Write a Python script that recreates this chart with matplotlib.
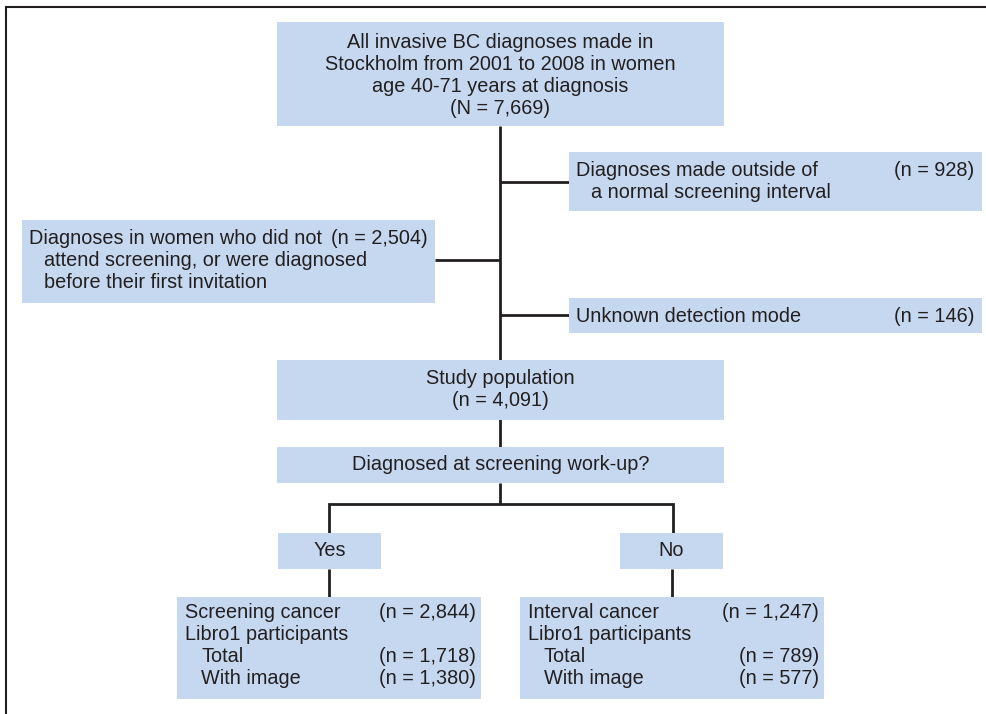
import matplotlib.pyplot as plt
from matplotlib.patches import Rectangle

plt.rcParams["font.family"] = ["Liberation Sans", "DejaVu Sans"]

FILL = "#c6d8ef"
INK = "#231f20"
FS = 14.3

# counts shown in the flowchart
total_n = "7,669"
excluded_labels = ["Diagnoses made outside of", "Diagnoses in women who did not", "Unknown detection mode"]
excluded_n = ["928", "2,504", "146"]
study_n = "4,091"
branch_labels = ["Yes", "No"]
group_labels = ["Screening cancer", "Interval cancer"]
group_n = ["2,844", "1,247"]
libro_total_n = ["1,718", "789"]
libro_image_n = ["1,380", "577"]

fig = plt.figure(figsize=(9.86, 7.14), dpi=100)
ax = fig.add_axes([0, 0, 1, 1])
ax.set_xlim(0, 986)
ax.set_ylim(714, 0)
ax.axis("off")


def box(x0, y0, x1, y1):
    ax.add_patch(Rectangle((x0, y0), x1 - x0, y1 - y0, facecolor=FILL, edgecolor="none", zorder=2))


def line(xs, ys, lw=2.0):
    ax.plot(xs, ys, color=INK, lw=lw, solid_capstyle="butt", solid_joinstyle="miter", zorder=1)


def txt(x, y, s, ha="left"):
    ax.text(x, y, s, ha=ha, va="center", fontsize=FS, color=INK, zorder=3)


# outer frame
line([6, 6, 990], [720, 7, 7], lw=1.5)

# connectors (drawn under the boxes)
line([500, 500], [126, 447])
line([500, 569], [182, 182])
line([435, 500], [260, 260])
line([500, 569], [315, 315])
line([500, 500], [483, 504])
line([329, 329, 673, 673], [533, 504, 504, 533])
line([329, 329], [569, 597])
line([672, 672], [569, 597])

# top box
box(277, 22, 724, 126)
for yy, s in zip([42, 64, 86, 108],
                 ["All invasive BC diagnoses made in", "Stockholm from 2001 to 2008 in women",
                  "age 40-71 years at diagnosis", f"(N = {total_n})"]):
    txt(500.5, yy, s, ha="center")

# exclusion boxes
box(569, 152, 982, 211)
txt(576, 170, excluded_labels[0])
txt(591, 193, "a normal screening interval")
txt(974, 170, f"(n = {excluded_n[0]})", ha="right")

box(22, 220, 435, 303)
txt(29, 238, excluded_labels[1])
txt(428, 238, f"(n = {excluded_n[1]})", ha="right")
txt(44, 261, "attend screening, or were diagnosed")
txt(44, 283, "before their first invitation")

box(569, 298, 982, 333)
txt(576, 316, excluded_labels[2])
txt(974, 316, f"(n = {excluded_n[2]})", ha="right")

# study population
box(277, 360, 724, 420)
txt(500.5, 378, "Study population", ha="center")
txt(500.5, 401, f"(n = {study_n})", ha="center")

box(277, 447, 724, 483)
txt(500.5, 465, "Diagnosed at screening work-up?", ha="center")

# branches
for (x0, x1), lab in zip([(278, 381), (620, 723)], branch_labels):
    box(x0, 533, x1, 569)
    txt((x0 + x1) / 2, 551, lab, ha="center")

for i, (x0, x1, xr) in enumerate([(177, 481, 476), (520, 824, 819)]):
    box(x0, 597, x1, 699)
    txt(x0 + 8, 612, group_labels[i])
    txt(xr, 612, f"(n = {group_n[i]})", ha="right")
    txt(x0 + 8, 635, "Libro1 participants")
    txt(x0 + 24, 657, "Total")
    txt(xr, 657, f"(n = {libro_total_n[i]})", ha="right")
    txt(x0 + 24, 679, "With image")
    txt(xr, 679, f"(n = {libro_image_n[i]})", ha="right")

fig.savefig("out.png", dpi=100)
